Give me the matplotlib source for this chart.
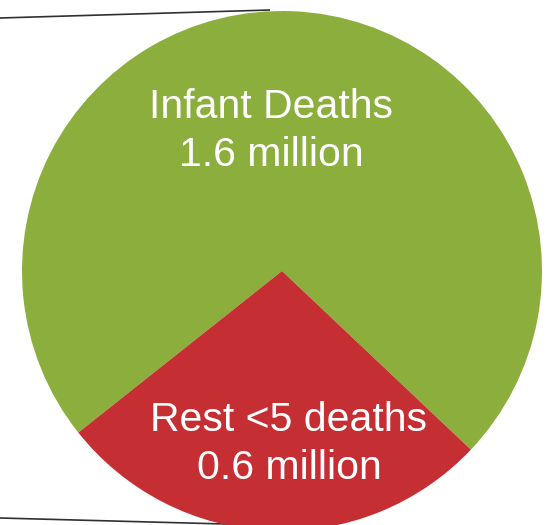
import matplotlib
matplotlib.use("Agg")
import matplotlib.pyplot as plt

# under-five deaths, millions
labels = ["Infant Deaths", "Rest <5 deaths"]
deaths_million = [1.6, 0.6]
colors = ["#8CAE3C", "#C52F33"]

plt.rcParams['font.family'] = ['Liberation Sans', 'DejaVu Sans']

W, H = 546, 525
fig = plt.figure(figsize=(W / 100, H / 100), dpi=100)
ax = fig.add_axes([0, 0, 1, 1])

# big pie, cropped slightly at the bottom of the canvas
cx, cy, r = 282, 254, 260
ax.pie(deaths_million, colors=colors, startangle=-43.4, counterclock=True,
       center=(cx, cy), radius=r, frame=True,
       wedgeprops=dict(linewidth=0))
ax.set_xlim(0, W)
ax.set_ylim(0, H)
ax.set_aspect('equal')
ax.axis('off')

# connector lines running off to the left
ax.plot([0, 270], [H - 18, H - 10], color='#303030', lw=1.2,
        solid_capstyle='butt', zorder=0)
ax.plot([0, 300], [H - 518, H - 526], color='#303030', lw=1.2,
        solid_capstyle='butt', zorder=0)

text_pos = [(271, 394), (289, 81)]
for lab, val, (tx, ty) in zip(labels, deaths_million, text_pos):
    ax.text(tx, ty, f"{lab}\n{val:.1f} million", color='white',
            fontsize=29.5, ha='center', va='center', multialignment='center',
            linespacing=1.32)

fig.savefig("out.png", dpi=100)
